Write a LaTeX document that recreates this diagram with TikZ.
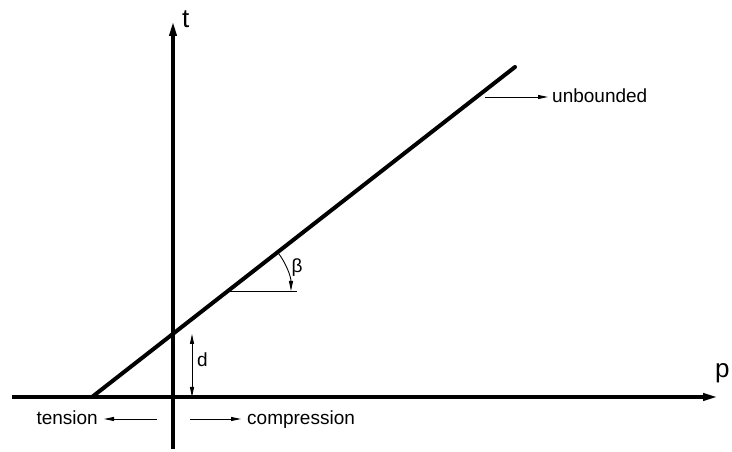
\documentclass[tikz,border=0pt]{standalone}
\usepackage{fontspec}
\setmainfont{Liberation Sans}
\usetikzlibrary{arrows.meta}
\begin{document}
\begin{tikzpicture}[x=1pt,y=1pt,
  axis/.style={line width=3.5pt,-{Triangle[length=15pt,width=7pt]}},
  thin/.style={line width=0.9pt},
  thinarrow/.style={line width=0.9pt,-{Triangle[length=10pt,width=4pt]}},
  lbl/.style={font=\fontsize{19}{22}\selectfont,inner sep=0pt},
  axlbl/.style={font=\fontsize{26}{30}\selectfont,inner sep=0pt}]
\useasboundingbox (0,0) rectangle (732,452);
% axes
\coordinate (hs) at (12,55);
\coordinate (he) at (718,55);
\coordinate (vs) at (173,3);
\coordinate (ve) at (173,431);
\draw[axis] (hs) -- (he);
\draw[axis] (vs) -- (ve);
\node[axlbl,anchor=base west] (t) at (182,424) {t};
\node[axlbl,anchor=base west] (p) at (715,74) {p};
% slanted line
\coordinate (s0) at (92,55);
\coordinate (s1) at (515,385);
\draw[line width=4pt,line cap=round] (s0) -- (s1);
% unbounded
\node[lbl,anchor=base west] (unb) at (552,349) {unbounded};
\coordinate (u0) at (485,355);
\coordinate (u1) at (548,355);
\draw[thinarrow] (u0) -- (u1);
% beta
\coordinate (bc) at (228,161);
\coordinate (bh) at (297,161);
\draw[thin] (bc) -- (bh);
\draw[thinarrow] ([shift={(38:63)}]bc) arc[start angle=38,end angle=0,radius=63];
\node[lbl,anchor=center] (beta) at (297,184) {β};
% d
\coordinate (d0) at (192,55);
\coordinate (d1) at (192,118);
\draw[line width=0.9pt,{Triangle[length=10pt,width=4pt]}-{Triangle[length=10pt,width=4pt]}] (d1) -- (d0);
\node[lbl,anchor=base west] (d) at (197,85) {d};
% tension / compression
\node[lbl,anchor=base east] (ten) at (98,27) {tension};
\coordinate (t0) at (157,33);
\coordinate (t1) at (104,33);
\draw[thinarrow] (t0) -- (t1);
\node[lbl,anchor=base west] (comp) at (247,27) {compression};
\coordinate (c0) at (190,33);
\coordinate (c1) at (241,33);
\draw[thinarrow] (c0) -- (c1);
\end{tikzpicture}
\end{document}
